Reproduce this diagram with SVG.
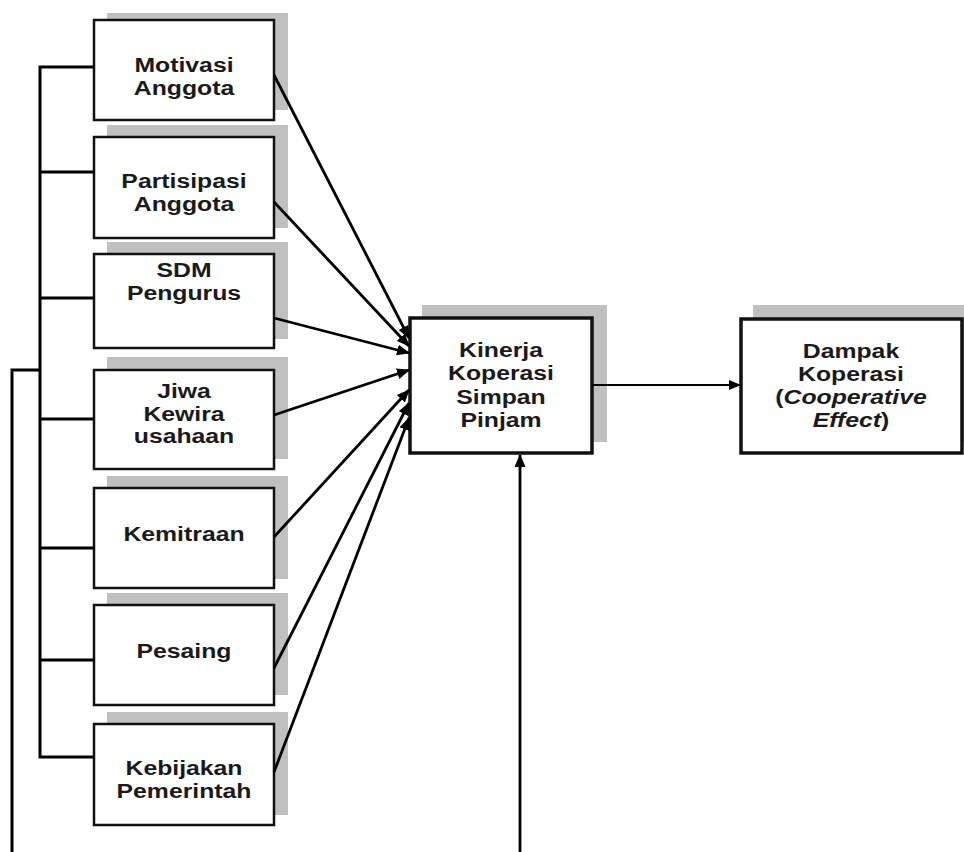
<svg xmlns="http://www.w3.org/2000/svg" width="964" height="852" viewBox="0 0 964 852">
<defs>
<style>
.sh{fill:#c0c0c0;stroke:none}
.bx{fill:#fff;stroke:#111;stroke-width:2.5}
.bxt{fill:#fff;stroke:#111;stroke-width:3.5}
.t{font-family:"Liberation Sans",Arial,sans-serif;font-weight:bold;font-size:21px;fill:#1a1a1a;text-anchor:middle}
.ln{fill:none;stroke:#000;stroke-width:3}
.ar{fill:none;stroke:#000;stroke-width:2.8}
.ar2{fill:none;stroke:#000;stroke-width:1.8}
</style>
<marker id="ah" markerUnits="userSpaceOnUse" viewBox="0 0 13 11" refX="12" refY="5.5" markerWidth="13" markerHeight="11" orient="auto">
<path d="M0,0 L13,5.5 L0,11 Z" fill="#000"/>
</marker>
<marker id="ah2" markerUnits="userSpaceOnUse" viewBox="0 0 12 10" refX="11" refY="5" markerWidth="12" markerHeight="10" orient="auto">
<path d="M0,0 L12,5 L0,10 Z" fill="#000"/>
</marker>
</defs>
<rect width="964" height="852" fill="#fff"/>

<g id="n1">
<rect class="sh" x="107" y="13" width="181" height="97"/>
<rect class="bx" x="94" y="20" width="180" height="100"/>
<g transform="translate(184,0) scale(1.18,1)"><text class="t" x="0" y="72">Motivasi</text><text class="t" x="0" y="95">Anggota</text></g>
</g>

<g id="n2">
<rect class="sh" x="107" y="125" width="181" height="103"/>
<rect class="bx" x="94" y="137" width="180" height="101"/>
<g transform="translate(184,0) scale(1.18,1)"><text class="t" x="0" y="188">Partisipasi</text><text class="t" x="0" y="211">Anggota</text></g>
</g>

<g id="n3">
<rect class="sh" x="107" y="242" width="181" height="97"/>
<rect class="bx" x="94" y="254" width="180" height="94"/>
<g transform="translate(184,0) scale(1.18,1)"><text class="t" x="0" y="277">SDM</text><text class="t" x="0" y="300">Pengurus</text></g>
</g>

<g id="n4">
<rect class="sh" x="107" y="357" width="181" height="102"/>
<rect class="bx" x="94" y="370" width="180" height="99"/>
<g transform="translate(184,0) scale(1.18,1)"><text class="t" x="0" y="398">Jiwa</text><text class="t" x="0" y="421">Kewira</text><text class="t" x="0" y="443">usahaan</text></g>
</g>

<g id="n5">
<rect class="sh" x="107" y="476" width="181" height="103"/>
<rect class="bx" x="94" y="488" width="180" height="100"/>
<g transform="translate(184,0) scale(1.18,1)"><text class="t" x="0" y="541">Kemitraan</text></g>
</g>

<g id="n6">
<rect class="sh" x="107" y="593" width="181" height="102"/>
<rect class="bx" x="94" y="605" width="180" height="100"/>
<g transform="translate(184,0) scale(1.18,1)"><text class="t" x="0" y="658">Pesaing</text></g>
</g>

<g id="n7">
<rect class="sh" x="107" y="712" width="181" height="103"/>
<rect class="bx" x="94" y="724" width="180" height="101"/>
<g transform="translate(184,0) scale(1.18,1)"><text class="t" x="0" y="775">Kebijakan</text><text class="t" x="0" y="798">Pemerintah</text></g>
</g>

<g id="center">
<rect class="sh" x="422" y="305" width="185" height="137"/>
<rect class="bxt" x="410" y="318" width="182" height="135"/>
<g transform="translate(501,0) scale(1.18,1)"><text class="t" x="0" y="357">Kinerja</text><text class="t" x="0" y="380">Koperasi</text><text class="t" x="0" y="404">Simpan</text><text class="t" x="0" y="427">Pinjam</text></g>
</g>

<g id="effect">
<rect class="sh" x="753" y="305" width="211" height="137"/>
<rect class="bxt" x="741" y="319" width="221" height="134"/>
<g transform="translate(851,0) scale(1.18,1)"><text class="t" x="0" y="358">Dampak</text><text class="t" x="0" y="381">Koperasi</text><text class="t" x="0" y="404">(<tspan font-style="italic">Cooperative</tspan></text><text class="t" x="0" y="427"><tspan font-style="italic">Effect</tspan>)</text></g>
</g>

<g id="connectors">
<path class="ln" d="M12,852 V370 H40"/>
<path class="ln" d="M94,67 H40 V757 H94"/>
<path class="ln" d="M40,172 H94 M40,298 H94 M40,419 H94 M40,548 H94 M40,660 H94"/>
<path class="ar" d="M274,75 L409,338" marker-end="url(#ah)"/>
<path class="ar" d="M274,202 L409,346" marker-end="url(#ah)"/>
<path class="ar" d="M274,318 L409,353" marker-end="url(#ah)"/>
<path class="ar" d="M274,415 L409,370" marker-end="url(#ah)"/>
<path class="ar" d="M274,537 L409,390" marker-end="url(#ah)"/>
<path class="ar" d="M274,668 L409,403" marker-end="url(#ah)"/>
<path class="ar" d="M274,772 L409,418" marker-end="url(#ah)"/>
<path class="ar" d="M520,852 L520,455" marker-end="url(#ah)"/>
<path class="ar2" d="M592,385 L740,385" marker-end="url(#ah2)"/>
</g>
</svg>
